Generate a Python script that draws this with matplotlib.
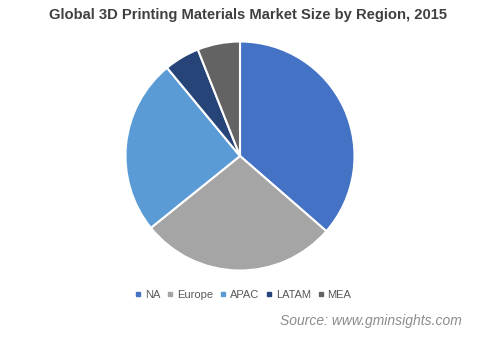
import matplotlib
matplotlib.use("Agg")
import matplotlib.pyplot as plt
from matplotlib.lines import Line2D

plt.rcParams['font.family'] = ['Liberation Sans', 'DejaVu Sans']

regions = ["NA", "Europe", "APAC", "LATAM", "MEA"]
shares = [36.4, 27.8, 24.8, 5.0, 6.0]
colors = ["#4472C4", "#A5A5A5", "#5B9BD5", "#264478", "#636363"]
title = "Global 3D Printing Materials Market Size by Region, 2015"
source = "Source: www.gminsights.com"

W, H = 480, 338
fig = plt.figure(figsize=(W / 100, H / 100), dpi=100)
cx, cy, r = 240, 156, 114.5
ax = fig.add_axes([(cx - r) / W, (H - cy - r) / H, 2 * r / W, 2 * r / H])
ax.pie(shares, colors=colors, startangle=90, counterclock=False,
       wedgeprops=dict(edgecolor="white", linewidth=1.5))
ax.set_xlim(-1, 1)
ax.set_ylim(-1, 1)
ax.axis("off")

fig.text(248 / W, 1 - 15 / H, title, ha="center", va="center",
         fontsize=10.6, fontweight="bold", color="#404040")

handles = [Line2D([0], [0], marker="s", linestyle="none", markersize=3.5,
                  markerfacecolor=c, markeredgecolor=c) for c in colors]
fig.legend(handles, regions, loc="center", bbox_to_anchor=(243 / W, 1 - 295 / H),
           ncol=5, frameon=False, fontsize=8, handlelength=0.6, handletextpad=0.3,
           columnspacing=0.6, labelcolor="#595959")

fig.text(462 / W, 1 - 321 / H, source, ha="right", va="center",
         fontsize=10, style="italic", color="#8C8C8C")

fig.savefig("out.png", dpi=100)
